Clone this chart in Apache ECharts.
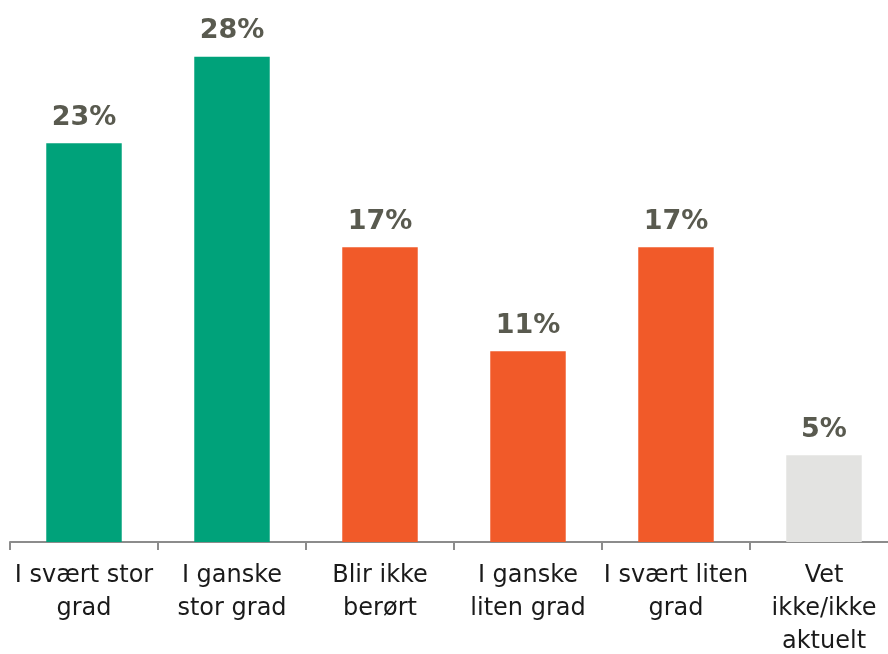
<!DOCTYPE html>
<html>
<head>
<meta charset="utf-8">
<script src="https://cdn.jsdelivr.net/npm/echarts@6/dist/echarts.min.js"></script>
<style>html,body{margin:0;padding:0;background:#fff}#c{width:888px;height:654px}</style>
</head>
<body>
<div id="c"></div>
<script>
const categories = ["I svært stor\ngrad", "I ganske\nstor grad", "Blir ikke\nberørt", "I ganske\nliten grad", "I svært liten\ngrad", "Vet\nikke/ikke\naktuelt"];
const values = [23, 28, 17, 11, 17, 5];
const barColors = ["#00A27A", "#00A27A", "#F15A29", "#F15A29", "#F15A29", "#E3E3E1"];

const chart = echarts.init(document.getElementById('c'), null, {renderer: 'canvas'});
chart.setOption({
  animation: false,
  grid: {left: 10, width: 888, top: 22, height: 520, containLabel: false, outerBoundsMode: 'none'},
  xAxis: {
    type: 'category',
    data: categories,
    axisLine: {lineStyle: {color: '#8c8c8c', width: 2}},
    axisTick: {show: true, length: 8, lineStyle: {color: '#8c8c8c', width: 2}},
    axisLabel: {
      interval: 0, margin: 17, color: '#1a1a1a',
      fontFamily: 'DejaVu Sans', fontSize: 24, lineHeight: 33
    }
  },
  yAxis: {
    type: 'value', min: 0, max: 30, show: false,
    splitLine: {show: false}
  },
  series: [{
    type: 'bar',
    barCategoryGap: '49%',
    data: values.map((v, i) => ({value: v, itemStyle: {color: barColors[i]}})),
    label: {
      show: true, position: 'top', distance: 12,
      formatter: '{c}%', color: '#595A4F',
      fontFamily: 'DejaVu Sans', fontWeight: 'bold', fontSize: 27
    }
  }]
});
</script>
</body>
</html>
